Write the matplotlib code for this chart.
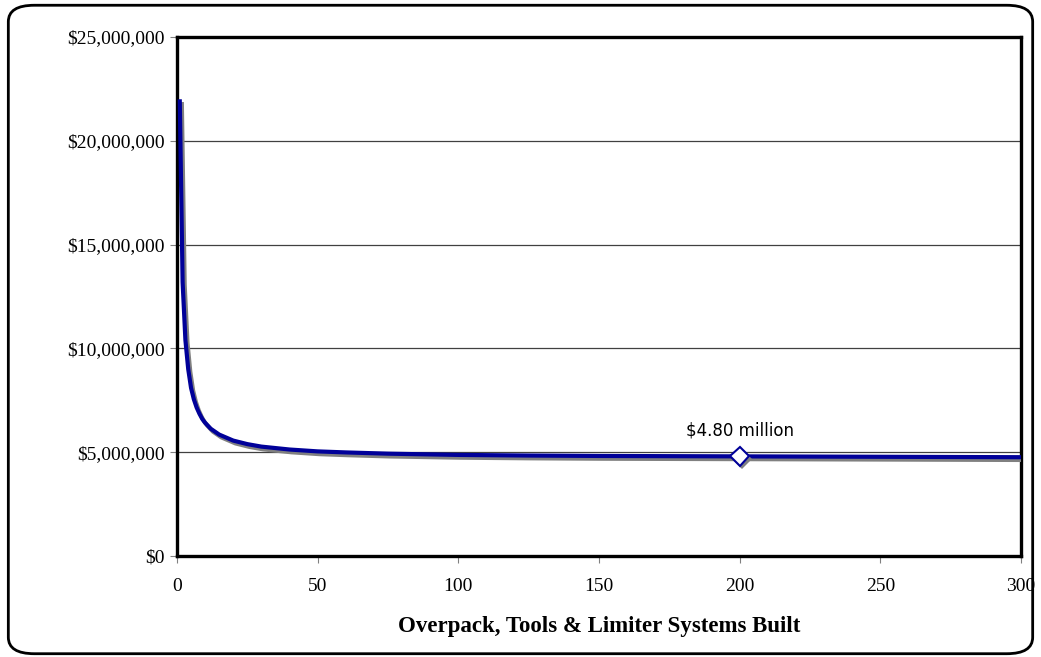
import matplotlib
matplotlib.use("Agg")
from matplotlib import pyplot as plt
from matplotlib.patches import FancyBboxPatch
from matplotlib.ticker import FuncFormatter
import matplotlib.patheffects as pe

# units built vs. unit cost
units = [1, 2, 3, 4, 5, 6, 7, 8, 9, 10, 12, 15, 20, 25, 30, 40, 50, 60, 75,
         100, 125, 150, 175, 200, 250, 300]
cost = [21.9e6, 13.2e6, 10.4e6, 9.0e6, 8.1e6, 7.55e6, 7.15e6, 6.85e6, 6.6e6, 6.42e6,
        6.13e6, 5.85e6, 5.56e6, 5.39e6, 5.27e6, 5.13e6, 5.04e6, 4.99e6, 4.93e6,
        4.87e6, 4.84e6, 4.82e6, 4.81e6, 4.80e6, 4.78e6, 4.76e6]
mark_x = 200
mark_y = 4.80e6
mark_label = "$4.80 million"

fig = plt.figure(figsize=(10.41, 6.57), dpi=100)
ax = fig.add_axes([0.170, 0.1537, 0.8108, 0.79])

# rounded border round the whole chart
border = FancyBboxPatch((0.008, 0.005), 0.984, 0.987, boxstyle="round,pad=0,rounding_size=0.025",
                        transform=fig.transFigure, fill=False, edgecolor="black", linewidth=2)
fig.patches.append(border)

shadow = [pe.SimpleLineShadow(offset=(1.5, -2), shadow_color="gray", alpha=1.0), pe.Normal()]
ax.plot(units, cost, color="#000099", linewidth=3, zorder=3, path_effects=shadow)
ax.plot([mark_x], [mark_y], marker="D", markersize=10, markerfacecolor="white",
        markeredgecolor="#000099", markeredgewidth=1.5, zorder=4,
        path_effects=[pe.SimplePatchShadow(offset=(1.5, -2), shadow_rgbFace="gray", alpha=1.0), pe.Normal()])
ax.annotate(mark_label, (mark_x, mark_y), xytext=(0, 12), textcoords="offset points",
            ha="center", va="bottom", fontsize=12, family="DejaVu Sans")

ax.set_xlim(0, 300)
ax.set_ylim(0, 25e6)
ax.set_xticks(range(0, 301, 50))
ax.set_yticks(range(0, 25000001, 5000000))
ax.yaxis.set_major_formatter(FuncFormatter(lambda v, p: "${:,.0f}".format(v)))
ax.grid(axis="y", color="#404040", linewidth=0.9)
ax.set_axisbelow(True)
for s in ax.spines.values():
    s.set_linewidth(2.4)
ax.tick_params(direction="out", length=5, width=0.8, color="gray", labelsize=14, pad=4)
for lab in ax.get_xticklabels() + ax.get_yticklabels():
    lab.set_family("Liberation Serif")
ax.tick_params(axis="x", pad=11)
ax.set_xlabel("Overpack, Tools & Limiter Systems Built", family="Liberation Serif",
              fontweight="bold", fontsize=16.5, labelpad=15)

fig.savefig("out.png", dpi=100)
